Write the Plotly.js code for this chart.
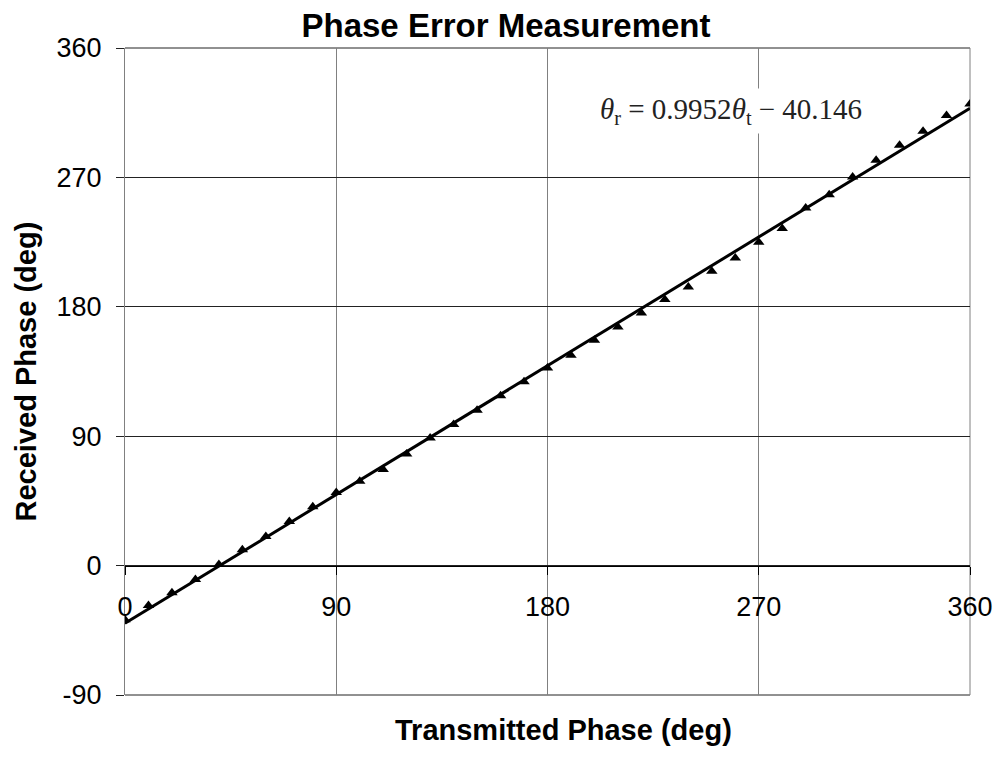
<!DOCTYPE html>
<html>
<head>
<meta charset="utf-8">
<script src="https://cdn.plot.ly/plotly-3.0.1.min.js"></script>
<style>
  html, body { margin: 0; padding: 0; background: #fff; }
  #chart { width: 998px; height: 759px; }
</style>
</head>
<body>
<div id="chart"></div>
<script>
// Data
var transmittedPhase = [0, 10, 20, 30, 40, 50, 60, 70, 80, 90, 100, 110, 120, 130, 140, 150, 160, 170, 180,
  190, 200, 210, 220, 230, 240, 250, 260, 270, 280, 290, 300, 310, 320, 330, 340, 350, 360];
var receivedPhase = [-37.6, -27.8, -18.8, -9.7, 0.7, 11.1, 20.2, 30.6, 41.0, 50.8, 58.6, 66.8, 77.7, 88.8,
  98.1, 108.0, 118.2, 127.8, 137.5, 146.3, 156.7, 166.0, 175.7, 185.0, 193.8, 204.7, 214.0, 224.9,
  234.4, 248.8, 258.0, 270.3, 281.9, 292.3, 302.1, 313.0, 321.1];
// Linear trendline shown in the chart
var trendSlope = 0.9952;
var trendIntercept = -40.146;
var trendX = [0, 360];
var trendY = trendX.map(function (x) { return trendSlope * x + trendIntercept; });
var tickValues = [-90, 0, 90, 180, 270, 360];
var tickLabels = ['-90', '0', '90', '180', '270', '360'];
var xTickValues = [0, 90, 180, 270, 360];
var xTickLabels = ['0', '90', '180', '270', '360'];

var font = 'Liberation Sans, Arial, sans-serif';

var traces = [
  {
    x: trendX, y: trendY, type: 'scatter', mode: 'lines',
    line: { color: '#000', width: 3 }, hoverinfo: 'skip', showlegend: false
  },
  {
    x: transmittedPhase, y: receivedPhase, type: 'scatter', mode: 'markers',
    marker: { symbol: 'triangle-up', size: 10, color: '#000' }, showlegend: false
  }
];

var layout = {
  width: 998, height: 759,
  margin: { l: 125, r: 28, t: 48, b: 64 },
  paper_bgcolor: '#fff', plot_bgcolor: '#fff',
  showlegend: false,
  title: {
    text: '<b>Phase Error Measurement</b>',
    font: { family: font, size: 33, color: '#000' },
    x: 506 / 998, xref: 'container', xanchor: 'center',
    y: 1 - 25 / 759, yref: 'container', yanchor: 'middle'
  },
  xaxis: {
    range: [0, 360], tickvals: xTickValues, ticktext: xTickLabels,
    anchor: 'free', position: 0.2,
    showgrid: true, gridcolor: '#808080', gridwidth: 1,
    zeroline: false,
    showline: true, linecolor: '#000', linewidth: 1,
    ticks: 'outside', ticklen: 8, tickcolor: '#000', tickwidth: 1,
    ticklabelstandoff: 9,
    tickfont: { family: font, size: 27, color: '#000' },
    fixedrange: true
  },
  yaxis: {
    range: [-90, 360], tickvals: tickValues, ticktext: tickLabels,
    showgrid: true, gridcolor: '#222', gridwidth: 1,
    zeroline: false,
    showline: true, linecolor: '#808080', linewidth: 1,
    ticks: 'outside', ticklen: 8, tickcolor: '#222', tickwidth: 1,
    ticklabelstandoff: 9,
    tickfont: { family: font, size: 27, color: '#000' },
    fixedrange: true
  },
  shapes: [
    { type: 'line', xref: 'paper', yref: 'paper', x0: 0, x1: 1, y0: 1, y1: 1, line: { color: '#222', width: 1 }, layer: 'between' },
    { type: 'line', xref: 'paper', yref: 'paper', x0: 0, x1: 1, y0: 0, y1: 0, line: { color: '#222', width: 1 }, layer: 'between' },
    { type: 'line', xref: 'paper', yref: 'paper', x0: 1, x1: 1, y0: 0, y1: 1, line: { color: '#808080', width: 1 }, layer: 'between' }
  ],
  annotations: [
    {
      text: '<i>θ</i><sub>r</sub> = 0.9952<i>θ</i><sub>t</sub> − 40.146',
      xref: 'x', yref: 'y', x: 258, y: 316, showarrow: false,
      font: { family: 'Liberation Serif, Times New Roman, serif', size: 29, color: '#222' },
      bgcolor: '#fff', borderpad: 4
    },
    {
      text: '<b>Transmitted Phase (deg)</b>',
      xref: 'paper', yref: 'paper', x: (563 - 125) / 845, y: -35 / 647, yanchor: 'middle', xanchor: 'center',
      showarrow: false, font: { family: font, size: 29, color: '#000' }
    },
    {
      text: '<b>Received Phase (deg)</b>',
      xref: 'paper', yref: 'paper', x: -100 / 845, y: 0.5, xanchor: 'center', yanchor: 'middle',
      textangle: -90, showarrow: false, font: { family: font, size: 29, color: '#000' }
    }
  ]
};

Plotly.newPlot('chart', traces, layout, { displayModeBar: false, staticPlot: true });
</script>
</body>
</html>
